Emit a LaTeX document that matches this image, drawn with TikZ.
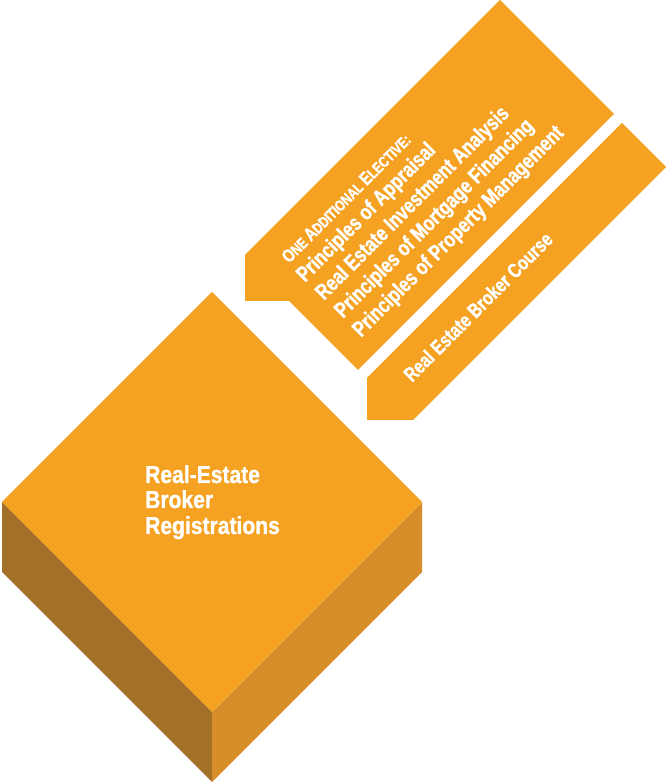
\documentclass[tikz,border=0pt]{standalone}
\usepackage{fontspec}
\setmainfont[FakeStretch=0.86,FakeBold=1]{Liberation Sans}
\newfontfamily\condfont[FakeStretch=0.78,FakeBold=1.2]{Liberation Sans}
\definecolor{topc}{HTML}{F5A122}
\definecolor{leftc}{HTML}{A3702A}
\definecolor{rightc}{HTML}{D78E2A}
\begin{document}
\begin{tikzpicture}[x=1pt,y=1pt,
  rotlbl/.style={text=white,anchor=base west,rotate=45,inner sep=0pt,font=\condfont\bfseries\fontsize{22}{22}\selectfont},
  mainlbl/.style={text=white,anchor=base west,inner sep=0pt,font=\bfseries\fontsize{24.5}{25}\selectfont}]
\useasboundingbox (0,0) rectangle (667,782);
% block
\coordinate (T) at (212,490);
\coordinate (L) at (2,280);
\coordinate (R) at (422,280);
\coordinate (B) at (212,70);
\coordinate (Ld) at (2,210);
\coordinate (Bd) at (212,0);
\coordinate (Rd) at (422,210);
\fill[leftc] (L) -- (B) -- (Bd) -- (Ld) -- cycle;
\fill[rightc] (B) -- (R) -- (Rd) -- (Bd) -- cycle;
\fill[topc] (T) -- (R) -- (B) -- (L) -- cycle;
% upper pencil
\fill[topc] (245,527) -- (500,782) -- (614,668) -- (358,412) -- (289,481) -- (245,481) -- cycle;
% lower pencil
\fill[topc] (367,404) -- (622,659) -- (666,615) -- (413,362) -- (367,362) -- cycle;
% texts
\node[rotlbl,font=\condfont\bfseries\fontsize{15.3}{15.3}\selectfont] (l1) at (289,518)
  {{\fontsize{18.4}{18.4}\selectfont O}NE {\fontsize{18.4}{18.4}\selectfont A}DDITIONAL {\fontsize{18.4}{18.4}\selectfont E}LECTIVE:};
\node[rotlbl] (l2) at (305,499) {Principles of Appraisal};
\node[rotlbl] (l3) at (324,481) {Real Estate Investment Analysis};
\node[rotlbl] (l4) at (343,463) {Principles of Mortgage Financing};
\node[rotlbl] (l5) at (361,444) {Principles of Property Management};
\node[rotlbl,font=\condfont\bfseries\fontsize{20.4}{20.4}\selectfont] (c1) at (412,399) {Real Estate Broker Course};
\node[mainlbl] (m1) at (145,299) {Real-Estate};
\node[mainlbl] (m2) at (145,274) {Broker};
\node[mainlbl] (m3) at (145,248) {Registrations};
\end{tikzpicture}
\end{document}
